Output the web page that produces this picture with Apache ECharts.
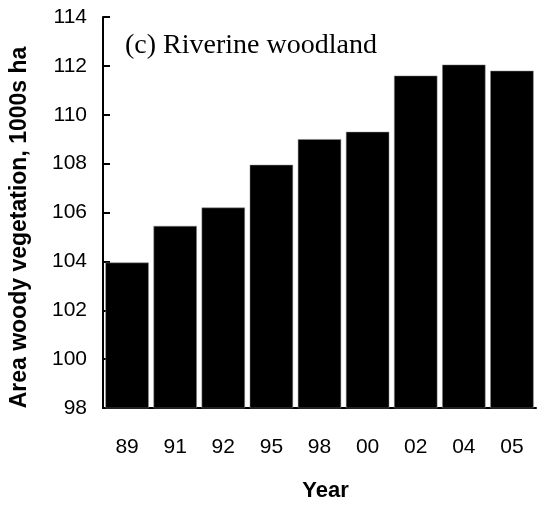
<!DOCTYPE html>
<html>
<head>
<meta charset="utf-8">
<script src="https://cdn.jsdelivr.net/npm/echarts@6/dist/echarts.min.js"></script>
<style>
  html, body { margin: 0; padding: 0; background: #fff; }
  #chart { width: 538px; height: 507px; }
</style>
</head>
<body>
<div id="chart"></div>
<script>
// years (two-digit labels) and woody vegetation area, 1000s ha
const years = ['89', '91', '92', '95', '98', '00', '02', '04', '05']
const areaValues = [103.95, 105.45, 106.2, 107.95, 109.0, 109.3, 111.6, 112.05, 111.8]
const yMin = 98
const yMax = 114
const yStep = 2

const chart = echarts.init(document.getElementById('chart'))

const option = {
  animation: false,
  backgroundColor: '#fff',
  grid: {
    left: 103,
    right: 2,
    top: 17,
    bottom: 99,
    containLabel: false
  },
  title: {
    text: '(c) Riverine woodland',
    left: 120,
    top: 27,
    textStyle: {
      fontFamily: 'Liberation Serif',
      fontWeight: 'normal',
      fontSize: 28,
      color: '#000'
    }
  },
  xAxis: {
    type: 'category',
    data: years,
    name: 'Year',
    nameLocation: 'middle',
    nameGap: 72,
    nameTextStyle: {
      fontFamily: 'Liberation Sans',
      fontWeight: 'bold',
      fontSize: 22,
      color: '#000',
      padding: [0, 0, 0, 12]
    },
    axisLine: { lineStyle: { color: '#000', width: 2 } },
    axisTick: { length: 7, lineStyle: { color: '#000', width: 2 } },
    axisLabel: {
      margin: 29,
      fontFamily: 'Liberation Sans',
      fontSize: 21,
      color: '#000'
    }
  },
  yAxis: {
    type: 'value',
    min: yMin,
    max: yMax,
    interval: yStep,
    name: 'Area woody vegetation, 1000s ha',
    nameLocation: 'middle',
    nameGap: 72,
    nameTextStyle: {
      fontFamily: 'Liberation Sans',
      fontWeight: 'bold',
      fontSize: 23,
      color: '#000',
      padding: [0, 30, 0, 0]
    },
    axisLine: { show: true, lineStyle: { color: '#000', width: 2 } },
    axisTick: { show: true, inside: true, length: 7, lineStyle: { color: '#000', width: 2 } },
    splitLine: { show: false },
    axisLabel: {
      margin: 16,
      fontFamily: 'Liberation Sans',
      fontSize: 21,
      color: '#000'
    }
  },
  series: [
    {
      type: 'bar',
      data: areaValues,
      barCategoryGap: '10%',
      itemStyle: {
        color: '#000',
        borderColor: '#888',
        borderWidth: 0.5
      }
    }
  ]
}

chart.setOption(option)
</script>
</body>
</html>
